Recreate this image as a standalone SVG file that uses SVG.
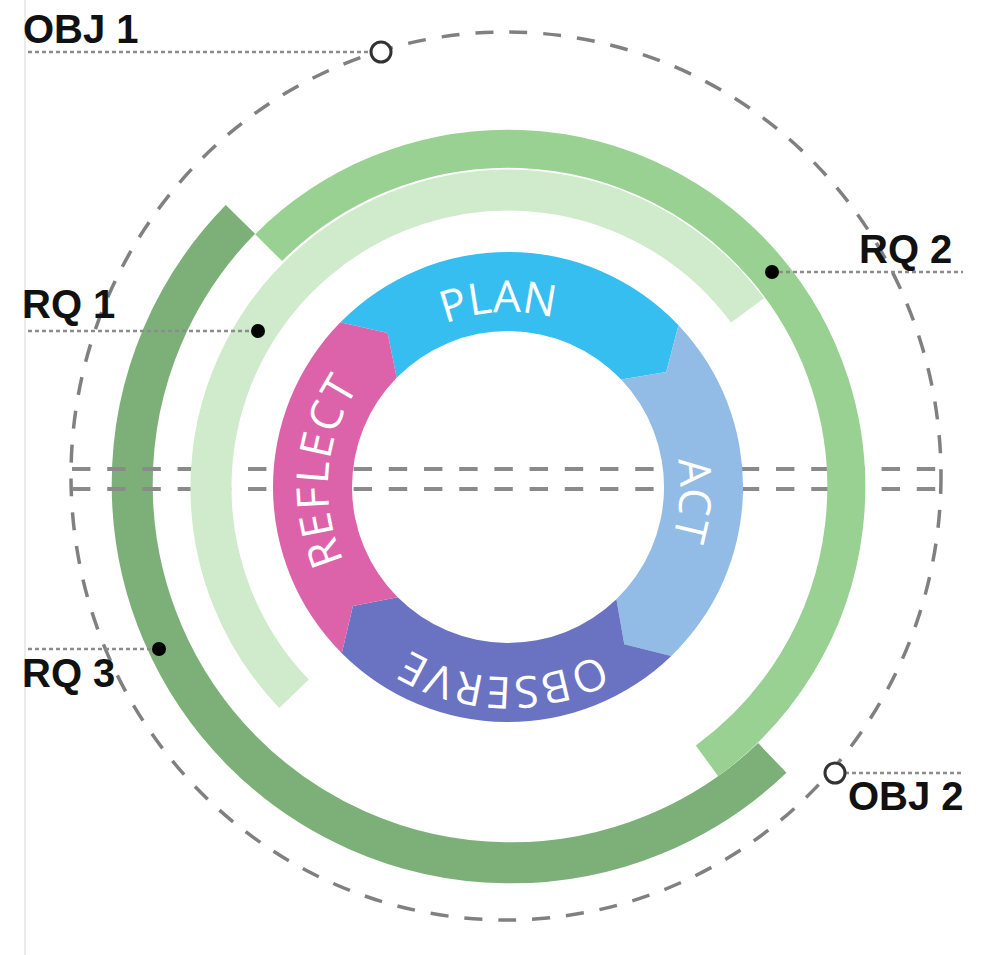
<svg xmlns="http://www.w3.org/2000/svg" width="983" height="955" viewBox="0 0 983 955">
  <style>
    .lbl { font-family: "Liberation Sans", Arial, sans-serif; font-weight: bold; font-size: 40px; fill: #111111; }
    .cyc { font-family: "Open Sans", "Noto Sans", sans-serif; font-size: 44px; fill: #ffffff; }
    .dash { fill: none; stroke: #8a8a8a; stroke-width: 4; stroke-dasharray: 18.4 16.8; }
    .lead { fill: none; stroke: #8c8c8c; stroke-width: 2.5; stroke-dasharray: 4 3; }
    .arc { fill: none; stroke-linecap: butt; }
    .dot { fill: #000000; }
    .ring-pt { fill: #ffffff; stroke: #333333; stroke-width: 3; }
  </style>
  <defs>
    <path id="p-plan" d="M 388.7 359.1 A 175 175 0 0 1 613.3 347.2"/>
    <path id="p-act" d="M 647.2 385.9 A 172 172 0 0 1 631.7 606.5"/>
    <path id="p-observe" d="M 626.4 635.7 A 190 190 0 0 1 382.0 629.3"/>
    <path id="p-reflect" d="M 360.6 590.2 A 180 180 0 0 1 380.7 359.7"/>
  </defs>

  <rect width="983" height="955" fill="#ffffff"/>
  <line x1="25" y1="0" x2="25" y2="955" stroke="#e4e4e4" stroke-width="1.5"/>

  <!-- outer dashed orbit -->
  <ellipse id="orbit" cx="506" cy="476" rx="435" ry="444" fill="none" stroke="#808080" stroke-width="3.5" stroke-dasharray="18 16"/>

  <!-- research-question arcs -->
  <g id="arc-rq3">
    <path class="arc" d="M 772.3 757.9 A 378.5 378.5 0 0 1 240.4 219.4" stroke="#7cb078" stroke-width="41"/>
  </g>

  <!-- horizontal guide lines -->
  <g id="guides">
    <line class="dash" x1="72" y1="469" x2="937" y2="469"/>
    <line class="dash" x1="72" y1="489" x2="937" y2="489"/>
  </g>

  <g id="arc-rq2">
    <path class="arc" d="M 268.6 247.6 A 338.5 338.5 0 1 1 707.0 760.8" stroke="#98d191" stroke-width="38"/>
  </g>
  <g id="arc-rq1">
    <path class="arc" d="M 294.0 693.7 A 297.5 297.5 0 1 1 747.5 310.4" stroke="#d0eacc" stroke-width="41"/>
  </g>

  <!-- action research cycle -->
  <g id="plan">
    <path d="M 340.4 322.3 A 235 235 0 0 1 678.5 325.2 L 666.2 372.1 L 621.2 379.6 A 156 156 0 0 0 396.7 377.7 L 387.6 332.9 Z" fill="#36bef0"/>
    <text class="cyc" font-size="42"><textPath href="#p-plan" startOffset="50%" text-anchor="middle">PLAN</textPath></text>
  </g>
  <g id="act">
    <path d="M 678.5 325.2 A 235 235 0 0 1 671.3 656.0 L 624.3 644.2 L 616.4 599.2 A 156 156 0 0 0 621.2 379.6 L 666.2 372.1 Z" fill="#92bce6"/>
    <text class="cyc"><textPath href="#p-act" startOffset="50%" text-anchor="middle">ACT</textPath></text>
  </g>
  <g id="observe">
    <path d="M 671.3 656.0 A 235 235 0 0 1 341.8 653.2 L 352.9 606.0 L 397.7 597.3 A 156 156 0 0 0 616.4 599.2 L 624.3 644.2 Z" fill="#6a72c2"/>
    <text class="cyc" font-size="46" letter-spacing="1.5"><textPath href="#p-observe" startOffset="50%" text-anchor="middle">OBSERVE</textPath></text>
  </g>
  <g id="reflect">
    <path d="M 341.8 653.2 A 235 235 0 0 1 340.4 322.3 L 387.6 332.9 L 396.7 377.7 A 156 156 0 0 0 397.7 597.3 L 352.9 606.0 Z" fill="#dc63aa"/>
    <text class="cyc" font-size="46" letter-spacing="1.5"><textPath href="#p-reflect" startOffset="50%" text-anchor="middle">REFLECT</textPath></text>
  </g>

  <!-- leader lines -->
  <g id="connectors">
    <line class="lead" x1="28" y1="52" x2="371" y2="52"/>
    <line class="lead" x1="772" y1="272" x2="963" y2="272"/>
    <line class="lead" x1="28" y1="331" x2="257" y2="331"/>
    <line class="lead" x1="28" y1="649" x2="159" y2="649"/>
    <line class="lead" x1="845" y1="773" x2="963" y2="773"/>
  </g>

  <g id="obj1">
    <circle class="ring-pt" cx="381" cy="52" r="10"/>
    <text class="lbl" x="23" y="43">OBJ 1</text>
  </g>
  <g id="rq2">
    <circle class="dot" cx="772" cy="272" r="7"/>
    <text class="lbl" x="859" y="263">RQ 2</text>
  </g>
  <g id="rq1">
    <circle class="dot" cx="258" cy="331" r="7"/>
    <text class="lbl" x="22" y="318">RQ 1</text>
  </g>
  <g id="rq3">
    <circle class="dot" cx="159" cy="649" r="7"/>
    <text class="lbl" x="22" y="687">RQ 3</text>
  </g>
  <g id="obj2">
    <circle class="ring-pt" cx="835" cy="773" r="10"/>
    <text class="lbl" x="848" y="810">OBJ 2</text>
  </g>
</svg>
